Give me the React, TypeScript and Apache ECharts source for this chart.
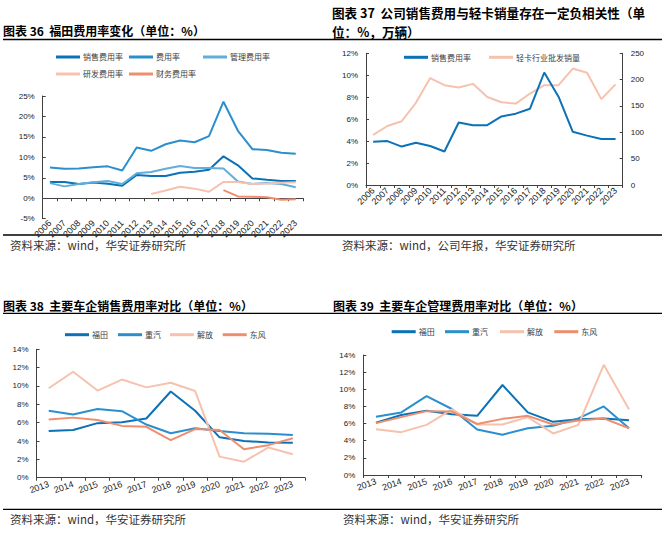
import React, { useEffect, useRef } from "react";
import * as echarts from "echarts";

const years36 = ["2006","2007","2008","2009","2010","2011","2012","2013","2014","2015","2016","2017","2018","2019","2020","2021","2022","2023"];
const sales36 = [3.95, 4.0, 3.5, 3.85, 3.55, 3.05, 5.7, 5.45, 5.45, 6.25, 6.5, 6.95, 10.25, 8.05, 4.85, 4.5, 4.2, 4.2];
const total36 = [7.5, 7.2, 7.3, 7.6, 7.8, 6.8, 12.4, 11.6, 13.2, 14.1, 13.7, 15.2, 23.6, 16.5, 12.0, 11.8, 11.1, 10.9];
const admin36 = [3.7, 2.9, 3.5, 3.9, 4.2, 3.5, 6.1, 6.4, 7.2, 7.9, 7.4, 7.4, 7.3, 4.1, 3.5, 3.7, 3.5, 2.7];
const rd36 = [null, null, null, null, null, null, null, 1.05, 1.9, 2.8, 2.35, 1.6, 4.0, 4.0, 3.5, 3.6, 3.8, 3.9];
const fin36 = [null, null, null, null, null, null, null, null, null, null, null, null, 2.0, 0.45, 0.35, 0.25, -0.35, -0.25];

const trucks37 = [95, 112, 121, 156, 203, 189.5, 185, 192, 167, 157, 154.5, 173.6, 189.5, 189.5, 221, 213, 163, 191];

const years38 = ["2013","2014","2015","2016","2017","2018","2019","2020","2021","2022","2023"];
const futian38 = [5.1, 5.2, 5.95, 6.05, 6.45, 9.4, 7.3, 4.4, 4.0, 3.85, 3.8];
const zhongqi38 = [7.3, 6.9, 7.5, 7.25, 5.8, 4.85, 5.4, 5.1, 4.85, 4.8, 4.65];
const jiefang38 = [9.75, 11.55, 9.5, 10.7, 9.85, 10.35, 9.45, 2.3, 1.75, 3.3, 2.55];
const dongfeng38 = [6.35, 6.55, 6.3, 5.65, 5.55, 4.1, 5.3, 5.2, 3.1, 3.55, 4.3];

const futian39 = [6.1, 7.0, 7.5, 7.1, 6.9, 10.5, 7.3, 6.2, 6.5, 6.6, 6.4];
const zhongqi39 = [6.8, 7.3, 9.2, 7.7, 5.3, 4.7, 5.45, 5.75, 6.6, 8.0, 5.45];
const jiefang39 = [5.35, 5.0, 5.85, 7.65, 5.9, 5.9, 6.75, 4.85, 5.85, 12.85, 7.65];
const dongfeng39 = [6.05, 6.75, 7.45, 7.4, 5.95, 6.55, 6.9, 5.9, 6.35, 6.6, 5.45];

const C_DARK = "#0B72B7";
const C_MID = "#2B8FCE";
const C_LIGHT = "#62AEDB";
const C_PINK = "#F6C2AE";
const C_SALMON = "#EE8E6E";

const CJK = "'Noto Sans CJK SC', 'Noto Sans', sans-serif";
const SANS = "'Liberation Sans', Arial, sans-serif";
const AXC = "#404040";

function leg(name: string, left: number, yc: number) {
  return {
    data: [name],
    left,
    top: yc - 5,
    padding: 0,
    itemGap: 0,
    itemWidth: 24,
    itemHeight: 3,
    icon: "rect",
    selectedMode: false,
    textStyle: { fontSize: 8, color: "#404040", fontFamily: CJK, padding: [0, 0, 0, -2] },
  };
}

function catAxis(grid: number, data: string[], rotate: number, margin: number) {
  return {
    type: "category",
    gridIndex: grid,
    data,
    boundaryGap: true,
    axisLine: { show: true, onZero: true, lineStyle: { color: AXC, width: 1 } },
    axisTick: { show: true, inside: false, length: 3, interval: 0, lineStyle: { color: AXC } },
    axisLabel: { interval: 0, rotate, margin, fontSize: 9, color: "#222", fontFamily: SANS },
    splitLine: { show: false },
  };
}

function valAxis(grid: number, min: number, max: number, interval: number, fmt: string, position = "left") {
  return {
    type: "value",
    gridIndex: grid,
    min,
    max,
    interval,
    position,
    axisLine: { show: true, lineStyle: { color: AXC, width: 1 } },
    axisTick: { show: true, inside: true, length: 3, lineStyle: { color: AXC } },
    axisLabel: { fontSize: 8, color: "#222", fontFamily: SANS, margin: 8, formatter: fmt },
    splitLine: { show: false },
  };
}

function ln(name: string, data: any[], color: string, xi: number, yi: number) {
  return {
    type: "line",
    name,
    data,
    xAxisIndex: xi,
    yAxisIndex: yi,
    symbol: "none",
    color,
    lineStyle: { color, width: 2 },
    connectNulls: false,
  };
}

function title(text: string, x: number, y: number, size = 12) {
  return {
    type: "text",
    x,
    y,
    style: { text, fontSize: size, fontWeight: "bold", fontFamily: CJK, fill: "#000", verticalAlign: "middle", align: "left" },
  };
}

function rule(y: number) {
  return {
    type: "line",
    shape: { x1: 3, y1: y, x2: 662, y2: y },
    style: { stroke: "#000", lineWidth: 1.3 },
  };
}

function source(text: string, x: number, y: number) {
  return {
    type: "text",
    x,
    y,
    style: { text, fontSize: 11.5, fontFamily: CJK, fill: "#333", verticalAlign: "middle", align: "left" },
  };
}

export default function App() {
  const ref = useRef<HTMLDivElement>(null);
  useEffect(() => {
    if (!ref.current) return;
    const chart = echarts.init(ref.current, null, { renderer: "svg" });
    const option: any = {
      animation: false,
      backgroundColor: "#fff",
      grid: [
        { left: 42.7, top: 96, width: 260.3, height: 122.7 },
        { left: 366, top: 53.3, width: 256.7, height: 131.7 },
        { left: 36.5, top: 349.3, width: 268.5, height: 128.4 },
        { left: 363.3, top: 355, width: 278.4, height: 120 },
      ],
      xAxis: [
        catAxis(0, years36, 45, 3),
        catAxis(1, years36, 45, 4),
        catAxis(2, years38, 20, 6),
        catAxis(3, years38, 20, 6),
      ],
      yAxis: [
        valAxis(0, -5, 25, 5, "{value}%"),
        valAxis(1, 0, 12, 2, "{value}%"),
        valAxis(1, 0, 250, 50, "{value}", "right"),
        valAxis(2, 0, 14, 2, "{value}%"),
        valAxis(3, 0, 14, 2, "{value}%"),
      ],
      legend: [
        leg("销售费用率", 56, 58),
        leg("费用率", 129, 58),
        leg("管理费用率", 203, 58),
        leg("研发费用率", 56, 75),
        leg("财务费用率", 129, 75),
        leg("销售费用率", 404, 58.3),
        leg("轻卡行业批发销量", 489, 58.3),
        leg("福田", 65, 335.7),
        leg("重汽", 118, 335.7),
        leg("解放", 170, 335.7),
        leg("东风", 222.7, 335.7),
        leg("福田", 391.7, 332.7),
        leg("重汽", 445, 332.7),
        leg("解放", 500, 332.7),
        leg("东风", 554.3, 332.7),
      ],
      series: [
        ln("销售费用率", sales36, C_DARK, 0, 0),
        ln("费用率", total36, C_MID, 0, 0),
        ln("管理费用率", admin36, C_LIGHT, 0, 0),
        ln("研发费用率", rd36, C_PINK, 0, 0),
        ln("财务费用率", fin36, C_SALMON, 0, 0),
        ln("轻卡行业批发销量", trucks37, C_PINK, 1, 2),
        ln("销售费用率", sales36, C_DARK, 1, 1),
        ln("福田", futian38, C_DARK, 2, 3),
        ln("重汽", zhongqi38, C_MID, 2, 3),
        ln("解放", jiefang38, C_PINK, 2, 3),
        ln("东风", dongfeng38, C_SALMON, 2, 3),
        ln("福田", futian39, C_DARK, 3, 4),
        ln("重汽", zhongqi39, C_MID, 3, 4),
        ln("解放", jiefang39, C_PINK, 3, 4),
        ln("东风", dongfeng39, C_SALMON, 3, 4),
      ],
      graphic: [
        title("图表 36  福田费用率变化（单位：%）", 3, 30),
        title("图表 37  公司销售费用与轻卡销量存在一定负相关性（单", 332, 12.5, 12.6),
        title("位：%，万辆）", 332, 31, 12.6),
        title("图表 38  主要车企销售费用率对比（单位：%）", 3, 305),
        title("图表 39  主要车企管理费用率对比（单位：%）", 333, 305),
        rule(39.5),
        rule(235),
        rule(313.3),
        rule(509.3),
        source("资料来源：wind，华安证券研究所", 10, 245),
        source("资料来源：wind，公司年报，华安证券研究所", 342, 245),
        source("资料来源：wind，华安证券研究所", 10, 519),
        source("资料来源：wind，华安证券研究所", 343, 519),
      ],
    };
    chart.setOption(option);
    return () => chart.dispose();
  }, []);
  return (
    <div
      ref={ref}
      style={{ position: "fixed", left: 0, top: 0, width: 671, height: 539, background: "#fff" }}
    />
  );
}
